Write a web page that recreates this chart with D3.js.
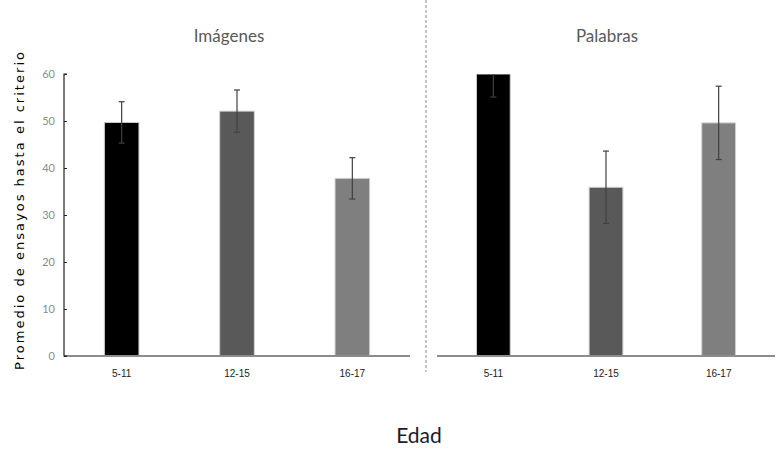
<!DOCTYPE html>
<html><head><meta charset="utf-8">
<script src="https://cdn.jsdelivr.net/npm/d3@7"></script>
<style>body{margin:0;background:#fff}svg{display:block}</style>
</head><body>
<svg id="c" width="784" height="458"></svg>
<script>
const categories = ["5-11", "12-15", "16-17"];
const panels = ["Imágenes", "Palabras"];
const imagenesValues = [49.7, 52.1, 37.8];
const imagenesErrors = [4.4, 4.5, 4.4];
const palabrasValues = [60.3, 35.9, 49.6];
const palabrasErrors = [5.2, 7.7, 7.8];
const yTicks = [0, 10, 20, 30, 40, 50, 60];
const barColors = ["#000000", "#595959", "#7f7f7f"];

const svg = d3.select("#c");
const y = d3.scaleLinear().domain([0, 60]).range([356, 74]);

svg.append("defs").append("clipPath").attr("id", "plotclip")
  .append("rect").attr("x", 0).attr("y", 74).attr("width", 784).attr("height", 300);

const panelDefs = [
  {title: panels[0], vals: imagenesValues, errs: imagenesErrors, range: [64, 410], titleX: 229},
  {title: panels[1], vals: palabrasValues, errs: palabrasErrors, range: [437, 775], titleX: 607}
];

panelDefs.forEach((p, pi) => {
  const x = d3.scaleBand().domain(categories).range(p.range).paddingInner(0.7).paddingOuter(0.35);
  const g = svg.append("g").attr("clip-path", "url(#plotclip)");
  const data = categories.map((c, i) => ({c, v: p.vals[i], e: p.errs[i], col: barColors[i]}));
  g.selectAll("rect.bar").data(data).join("rect")
    .attr("x", d => x(d.c)).attr("width", x.bandwidth())
    .attr("y", d => y(Math.min(d.v, 60))).attr("height", d => y(0) - y(Math.min(d.v, 60)))
    .attr("fill", d => d.col).attr("stroke", "#d0d0d0").attr("stroke-width", 1);
  // error bars
  data.forEach(d => {
    const cx = x(d.c) + x.bandwidth() / 2;
    g.append("line").attr("x1", cx).attr("x2", cx).attr("y1", y(d.v + d.e)).attr("y2", y(d.v - d.e))
      .attr("stroke", "#404040").attr("stroke-width", 1.2);
    [d.v + d.e, d.v - d.e].forEach(v => {
      g.append("line").attr("x1", cx - 3).attr("x2", cx + 3).attr("y1", y(v)).attr("y2", y(v))
        .attr("stroke", "#404040").attr("stroke-width", 1.2);
    });
  });
  // x axis
  const xa = svg.append("g").attr("transform", `translate(0,${y(0)})`)
    .call(d3.axisBottom(x).tickSize(0).tickPadding(14));
  xa.select(".domain").attr("stroke", "#8c8c8c").attr("stroke-width", 2).attr("d", `M${p.range[0]},0H${p.range[1]}`);
  xa.selectAll("text").attr("font-family", "Liberation Sans Narrow, Liberation Sans, sans-serif")
    .attr("font-size", 10).attr("fill", "#222");
  // title
  svg.append("text").attr("x", p.titleX).attr("y", 42).attr("text-anchor", "middle")
    .attr("font-family", "Lato, Open Sans, sans-serif").attr("font-size", 17).attr("fill", "#595959")
    .text(p.title);
});

// y axis (left panel only)
const ya = svg.append("g").attr("transform", "translate(64,0)")
  .call(d3.axisRight(y).tickValues(yTicks).tickSize(3).tickFormat(d3.format("d")));
ya.select(".domain").attr("stroke", "#222").attr("stroke-width", 1.2).attr("d", `M3,${y(60)}H0V${y(0)}H3`);
ya.selectAll(".tick line").attr("stroke", "#222");
ya.selectAll("text").attr("x", -9).attr("text-anchor", "end")
  .attr("font-family", "Lato, Open Sans, sans-serif").attr("font-size", 11).attr("fill", "#8c8c8c");

// dashed separator
svg.append("line").attr("x1", 426).attr("x2", 426).attr("y1", 0).attr("y2", 372)
  .attr("stroke", "#8c8c8c").attr("stroke-width", 1).attr("stroke-dasharray", "3,2");

// axis labels
svg.append("text").attr("transform", "translate(24,211) rotate(-90)").attr("text-anchor", "middle")
  .attr("font-family", "DejaVu Sans, sans-serif").attr("font-size", 13).attr("fill", "#000")
  .attr("textLength", 318).attr("lengthAdjust", "spacing")
  .text("Promedio de ensayos hasta el criterio");
svg.append("text").attr("x", 419).attr("y", 443).attr("text-anchor", "middle")
  .attr("font-family", "Lato, Open Sans, sans-serif").attr("font-size", 21).attr("fill", "#1a1a2a")
  .text("Edad");
</script>
</body></html>
